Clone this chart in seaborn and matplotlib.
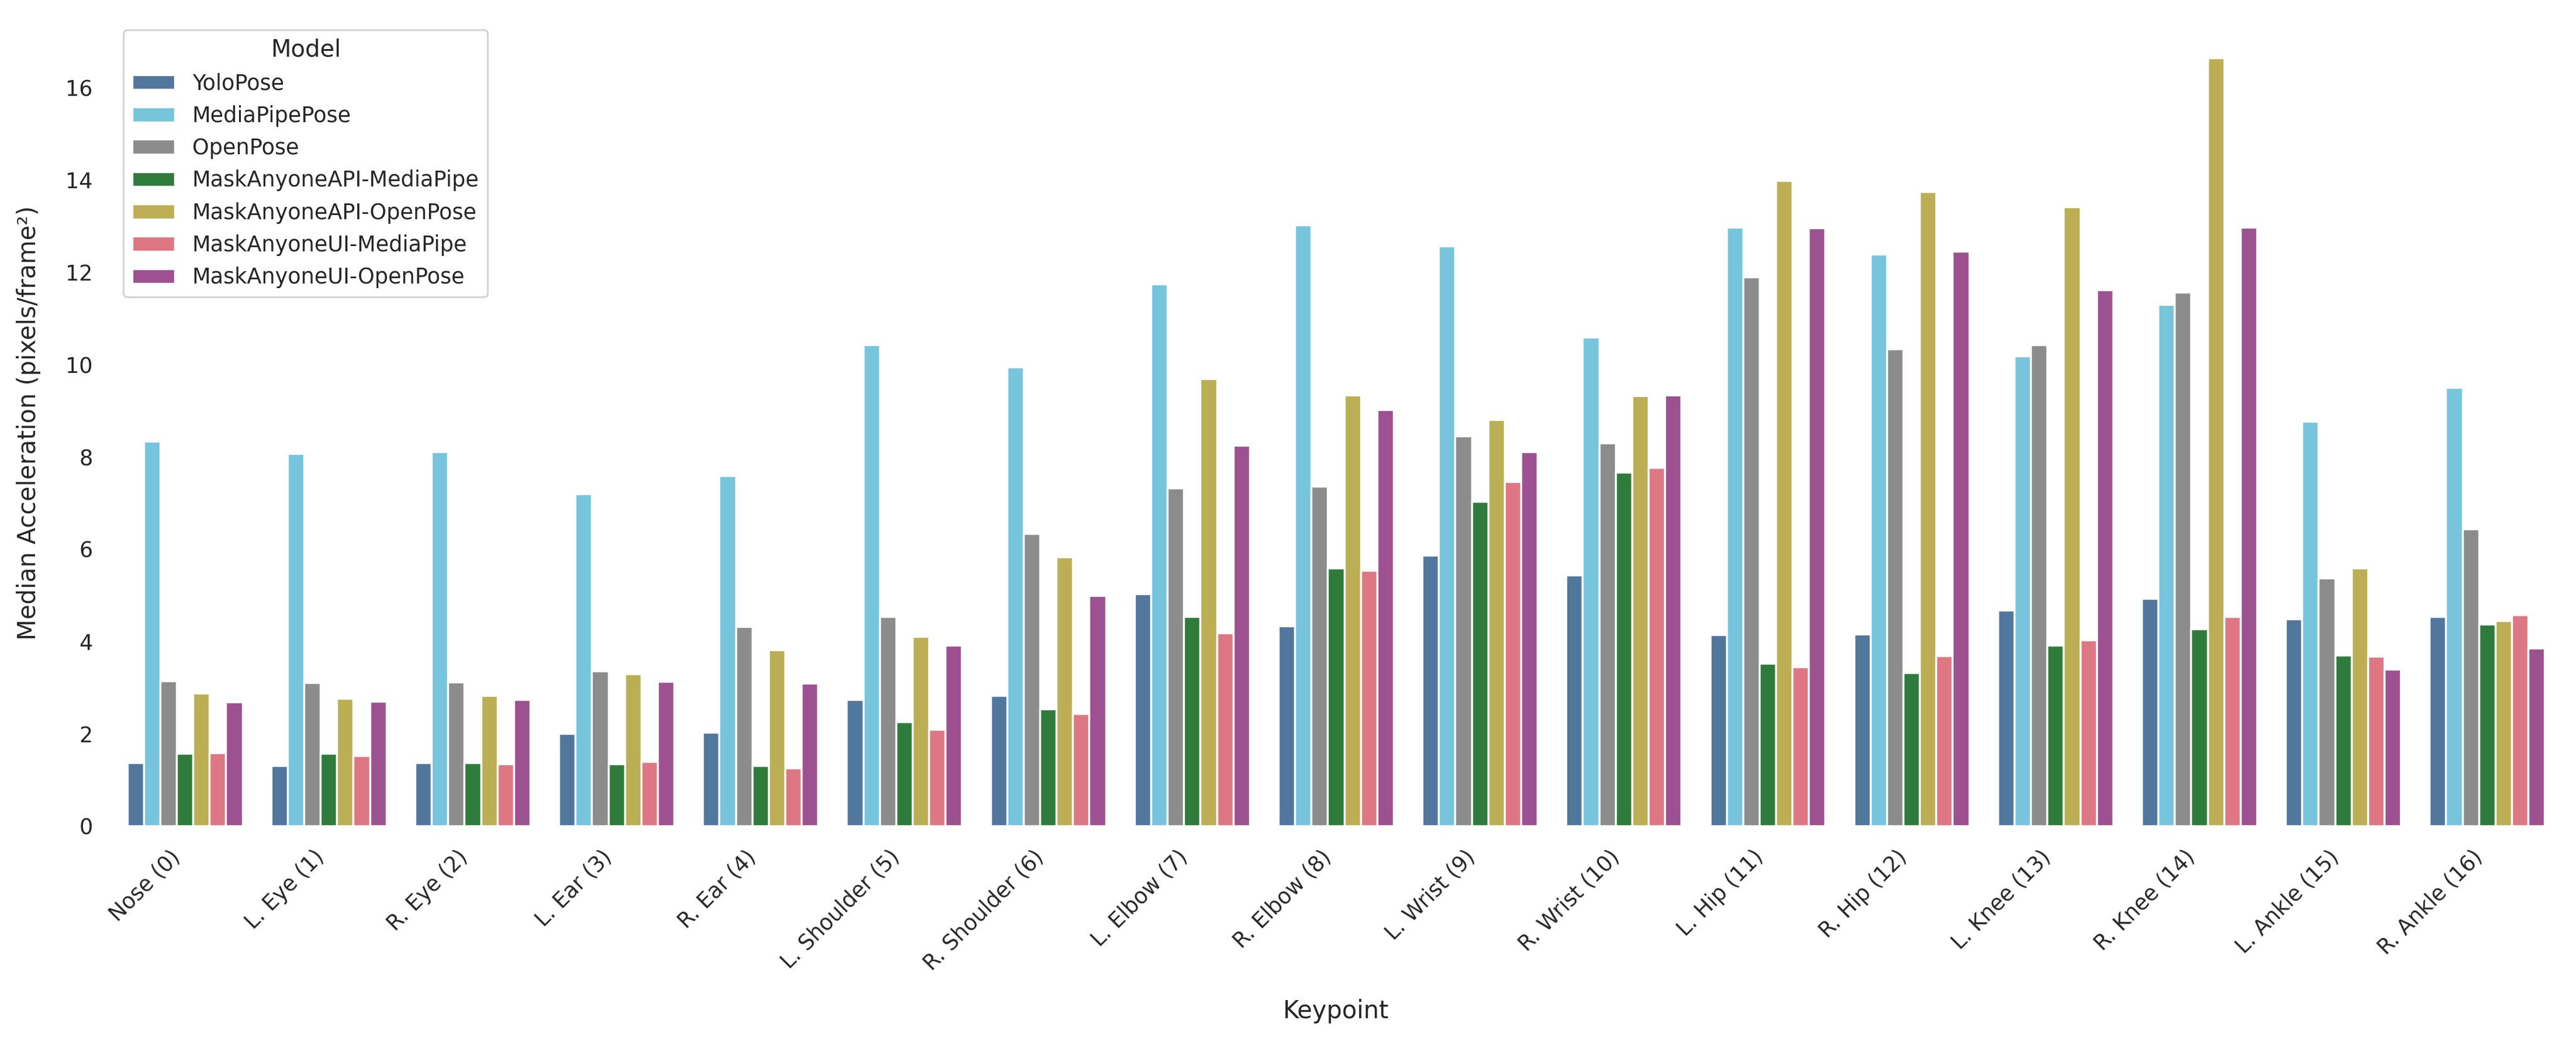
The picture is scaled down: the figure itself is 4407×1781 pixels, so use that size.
import matplotlib
matplotlib.use("Agg")
import matplotlib.pyplot as plt
import pandas as pd
import seaborn as sns

keypoints = ["Nose (0)", "L. Eye (1)", "R. Eye (2)", "L. Ear (3)", "R. Ear (4)",
             "L. Shoulder (5)", "R. Shoulder (6)", "L. Elbow (7)", "R. Elbow (8)",
             "L. Wrist (9)", "R. Wrist (10)", "L. Hip (11)", "R. Hip (12)",
             "L. Knee (13)", "R. Knee (14)", "L. Ankle (15)", "R. Ankle (16)"]

models = ["YoloPose", "MediaPipePose", "OpenPose", "MaskAnyoneAPI-MediaPipe",
          "MaskAnyoneAPI-OpenPose", "MaskAnyoneUI-MediaPipe", "MaskAnyoneUI-OpenPose"]

yolopose = [1.37, 1.31, 1.37, 2.00, 2.03, 2.74, 2.82, 5.03, 4.33, 5.86, 5.43,
            4.14, 4.16, 4.67, 4.93, 4.49, 4.54]
mediapipepose = [8.34, 8.07, 8.11, 7.20, 7.59, 10.42, 9.95, 11.74, 13.02, 12.57, 10.59,
                 12.97, 12.39, 10.19, 11.30, 8.76, 9.50]
openpose = [3.14, 3.11, 3.12, 3.36, 4.32, 4.54, 6.33, 7.32, 7.36, 8.45, 8.30,
            11.90, 10.34, 10.42, 11.57, 5.37, 6.44]
api_mediapipe = [1.57, 1.57, 1.37, 1.34, 1.31, 2.25, 2.54, 4.53, 5.59, 7.03, 7.66,
                 3.52, 3.32, 3.91, 4.27, 3.70, 4.37]
api_openpose = [2.87, 2.76, 2.83, 3.29, 3.81, 4.11, 5.83, 9.69, 9.33, 8.80, 9.32,
                13.98, 13.74, 13.42, 16.65, 5.59, 4.45]
ui_mediapipe = [1.59, 1.52, 1.34, 1.40, 1.26, 2.09, 2.43, 4.18, 5.53, 7.46, 7.77,
                3.45, 3.69, 4.03, 4.53, 3.67, 4.57]
ui_openpose = [2.69, 2.70, 2.74, 3.13, 3.09, 3.91, 4.99, 8.25, 9.02, 8.11, 9.34,
               12.96, 12.45, 11.62, 12.97, 3.40, 3.85]

series = [yolopose, mediapipepose, openpose, api_mediapipe,
          api_openpose, ui_mediapipe, ui_openpose]

rows = []
for model, vals in zip(models, series):
    for kp, v in zip(keypoints, vals):
        rows.append({"Keypoint": kp, "Model": model, "Median Acceleration": v})
df = pd.DataFrame(rows)

palette = ["#4477AA", "#66CCEE", "#8C8C8C", "#228833", "#CCBB44", "#EE6677", "#AA4499"]

sns.set_theme(style="white", context="paper")

fig, ax = plt.subplots(figsize=(14.69, 5.937))
fig.subplots_adjust(left=0.0438, right=0.9934, bottom=0.2066, top=0.9815)

sns.barplot(data=df, x="Keypoint", y="Median Acceleration", hue="Model",
            order=keypoints, hue_order=models, palette=palette, ax=ax)

ax.set_xlabel("Keypoint", fontsize=10, labelpad=10)
ax.set_ylabel("Median Acceleration (pixels/frame²)", fontsize=10, labelpad=10)
plt.setp(ax.get_xticklabels(), rotation=45, ha="right")
sns.move_legend(ax, "upper left", title="Model")
sns.despine(left=True, bottom=True)

plt.savefig("out.png", dpi=300)
